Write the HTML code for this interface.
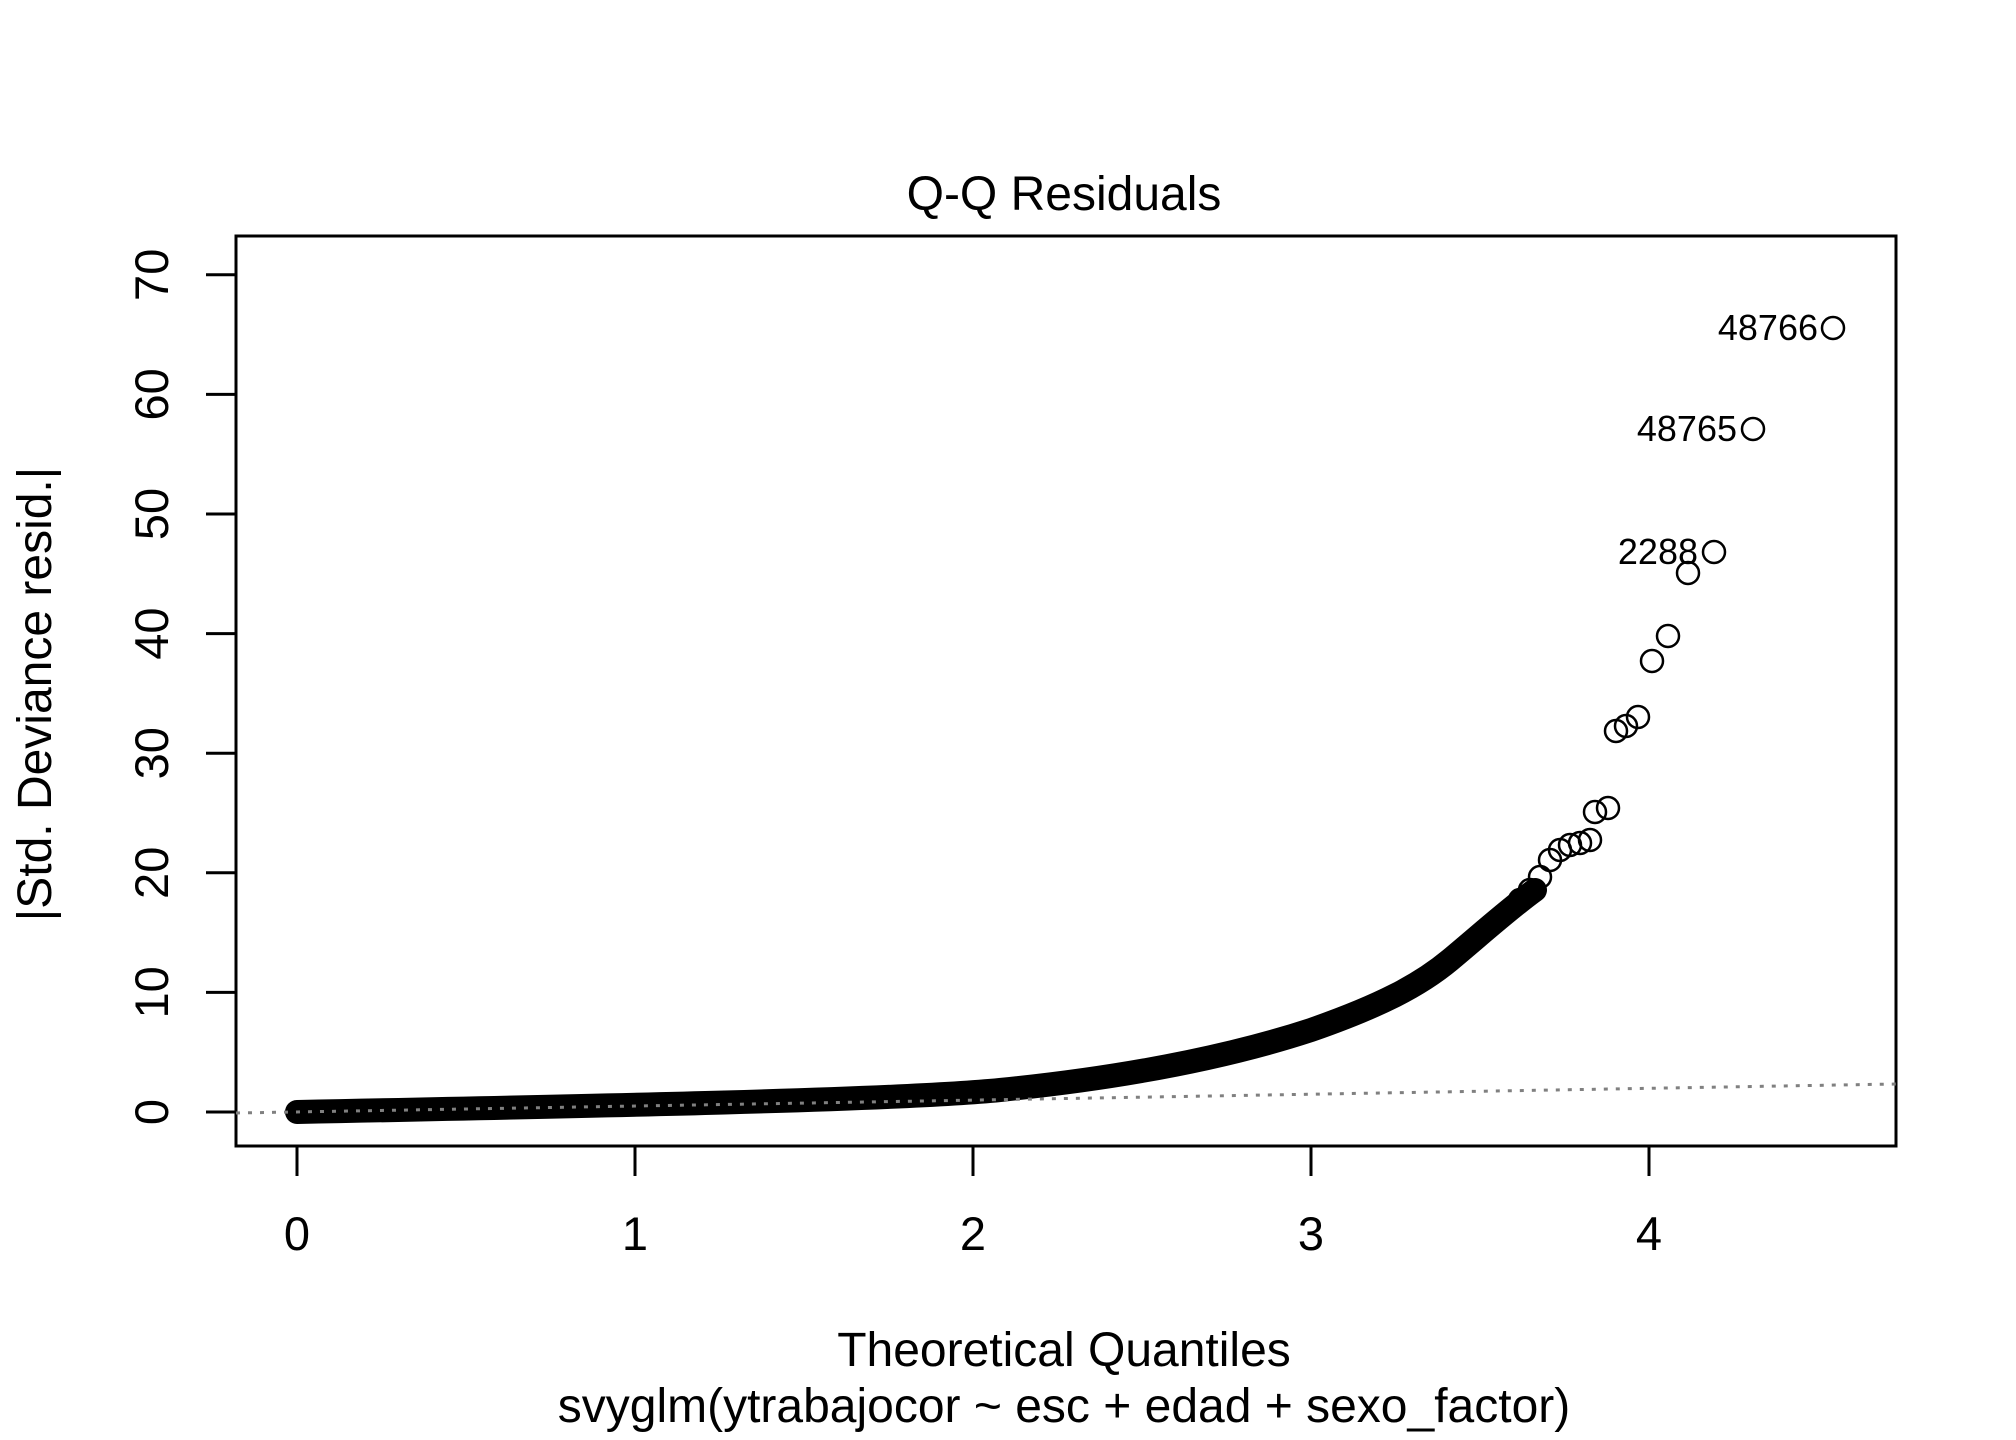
<!DOCTYPE html>
<html><head><meta charset="utf-8"><style>html,body{margin:0;padding:0;background:#fff}svg{display:block}</style></head>
<body>
<svg width="2016" height="1440" viewBox="0 0 2016 1440" xmlns="http://www.w3.org/2000/svg" font-family="'Liberation Sans', Arial, sans-serif">
<rect width="2016" height="1440" fill="#fff"/>
<text x="1064" y="210" font-size="48" text-anchor="middle">Q-Q Residuals</text>
<rect x="236" y="236" width="1660" height="910" fill="none" stroke="#000" stroke-width="3"/>
<g stroke="#000" stroke-width="3">
<line x1="297" y1="1146" x2="297" y2="1176"/><line x1="635" y1="1146" x2="635" y2="1176"/><line x1="973" y1="1146" x2="973" y2="1176"/><line x1="1311" y1="1146" x2="1311" y2="1176"/><line x1="1649" y1="1146" x2="1649" y2="1176"/>
<line x1="206" y1="1112" x2="236" y2="1112"/><line x1="206" y1="992.4" x2="236" y2="992.4"/><line x1="206" y1="872.8" x2="236" y2="872.8"/><line x1="206" y1="753.2" x2="236" y2="753.2"/><line x1="206" y1="633.6" x2="236" y2="633.6"/><line x1="206" y1="514" x2="236" y2="514"/><line x1="206" y1="394.4" x2="236" y2="394.4"/><line x1="206" y1="274.8" x2="236" y2="274.8"/>
</g>
<g font-size="47" text-anchor="middle">
<text x="297" y="1250">0</text><text x="635" y="1250">1</text><text x="973" y="1250">2</text><text x="1311" y="1250">3</text><text x="1649" y="1250">4</text>
</g>
<g font-size="47" text-anchor="middle">
<text transform="translate(168,1112) rotate(-90)">0</text>
<text transform="translate(168,992.4) rotate(-90)">10</text>
<text transform="translate(168,872.8) rotate(-90)">20</text>
<text transform="translate(168,753.2) rotate(-90)">30</text>
<text transform="translate(168,633.6) rotate(-90)">40</text>
<text transform="translate(168,514) rotate(-90)">50</text>
<text transform="translate(168,394.4) rotate(-90)">60</text>
<text transform="translate(168,274.8) rotate(-90)">70</text>
</g>
<text transform="translate(51,694) rotate(-90)" font-size="48" text-anchor="middle">|Std. Deviance resid.|</text>
<text x="1064" y="1366" font-size="48" text-anchor="middle">Theoretical Quantiles</text>
<text x="1064" y="1422" font-size="48" text-anchor="middle">svyglm(ytrabajocor ~ esc + edad + sexo_factor)</text>
<path fill="none" stroke="#000" stroke-width="24" stroke-linecap="round" stroke-linejoin="round" d="M297,1112 C600,1106 900,1100 1000,1090 C1150,1075 1250,1050 1311,1030 C1380,1006 1420,985 1450,960 C1480,935 1510,908 1535,890"/>
<g fill="none" stroke="#000" stroke-width="2.5">
<circle cx="1520" cy="900" r="11"/><circle cx="1530" cy="890" r="11"/><circle cx="1540" cy="877" r="11"/>
<circle cx="1550" cy="860" r="11"/><circle cx="1560" cy="850" r="11"/><circle cx="1570" cy="845" r="11"/><circle cx="1580" cy="843" r="11"/><circle cx="1590" cy="840" r="11"/>
<circle cx="1595" cy="812" r="11"/><circle cx="1608" cy="808" r="11"/>
<circle cx="1616" cy="731" r="11"/><circle cx="1626" cy="726" r="11"/><circle cx="1638" cy="717" r="11"/>
<circle cx="1652" cy="661" r="11"/><circle cx="1668" cy="636" r="11"/>
<circle cx="1688" cy="573" r="11"/><circle cx="1714" cy="552" r="11"/>
<circle cx="1753" cy="429" r="11"/><circle cx="1833" cy="328" r="11"/>
</g>
<line x1="236" y1="1113" x2="1896" y2="1084" stroke="#808080" stroke-width="3" stroke-dasharray="4 8"/>
<g font-size="36" text-anchor="end">
<text x="1818" y="340">48766</text>
<text x="1737" y="441">48765</text>
<text x="1698" y="564">2288</text>
</g>
</svg>
</body></html>
